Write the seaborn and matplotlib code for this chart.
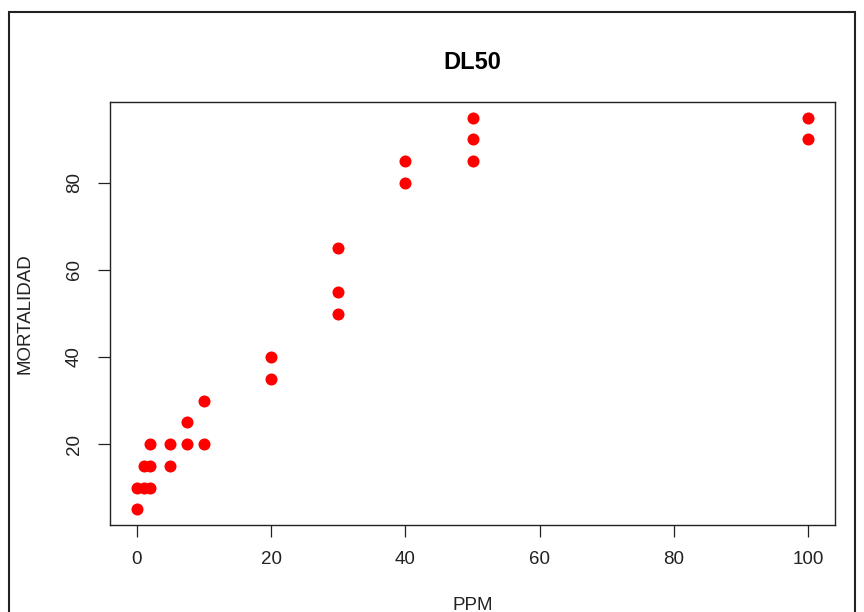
import numpy as np
import pandas as pd
import matplotlib
matplotlib.use("Agg")
import matplotlib.pyplot as plt
import seaborn as sns
from matplotlib.patches import Rectangle

# data
ppm = [0, 0, 1, 2, 1, 2, 5, 2, 5, 7.5, 10, 7.5, 10, 20, 20, 30, 30, 30, 40, 40, 50, 50, 50, 100, 100]
mortalidad = [5, 10, 10, 10, 15, 15, 15, 20, 20, 20, 20, 25, 30, 35, 40, 50, 55, 65, 80, 85, 85, 90, 95, 90, 95]
x_ticks = [0, 20, 40, 60, 80, 100]
y_ticks = [20, 40, 60, 80]

df = pd.DataFrame({"PPM": ppm, "MORTALIDAD": mortalidad})

sns.set_style("white")
plt.rcParams['font.family'] = ['Liberation Sans', 'DejaVu Sans']

fig = plt.figure(figsize=(8.64, 6.12), dpi=100)
ax = fig.add_axes([110 / 864, 1 - 525 / 612, (835 - 110) / 864, (525 - 102) / 612])

sns.scatterplot(data=df, x="PPM", y="MORTALIDAD", color="red", s=75,
                linewidth=0, ax=ax)

ax.set_xlim(-4, 104)
ax.set_ylim(1.4, 98.6)
ax.set_xticks(x_ticks)
ax.set_yticks(y_ticks)
ax.set_yticklabels([str(v) for v in y_ticks], rotation=90, va="center")
ax.tick_params(axis="both", direction="out", length=8.6, width=0.9,
               color="#222222", labelsize=13.5, labelcolor="#222222")
ax.tick_params(axis="x", pad=10)
ax.tick_params(axis="y", pad=11)
ax.tick_params(left=True, bottom=True)
for sp in ax.spines.values():
    sp.set_color("#222222")
    sp.set_linewidth(1.0)

ax.set_xlabel("PPM", fontsize=13.5, color="#222222", labelpad=21)
ax.set_ylabel("MORTALIDAD", fontsize=13.5, color="#222222", labelpad=23)
ax.set_title("DL50", fontsize=17, fontweight="bold", color="black", pad=24)

# outer frame of the screenshot
fig.patches.append(Rectangle((9 / 864, -0.1), (855 - 9) / 864, 1.1 - 12 / 612,
                             transform=fig.transFigure, fill=False,
                             edgecolor="#222222", linewidth=1.5))

fig.savefig("out.png", dpi=100)
